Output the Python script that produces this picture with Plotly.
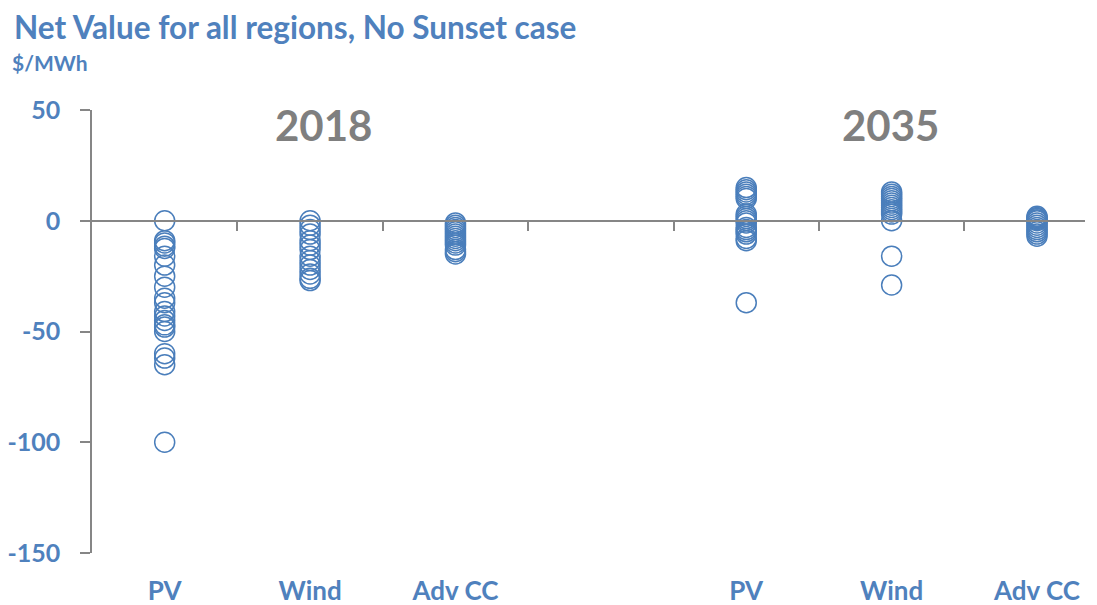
import plotly.graph_objects as go

# ---- data ----
categories = ["PV", "Wind", "Adv CC", "", "PV", "Wind", "Adv CC"]
year_labels = ["2018", "2035"]
year_positions = [1.09, 4.99]

pv_2018 = [0, -9, -10, -11.5, -12.5, -16, -20, -25, -30, -35, -37, -41, -43, -45, -47, -48, -50, -60, -62, -65, -100]
wind_2018 = [0, -2, -4, -6, -9, -11, -13, -16, -18, -20, -22, -24, -26, -27]
advcc_2018 = [-1, -2, -3, -4, -5, -6, -7, -8, -9, -10, -11, -13, -14, -15]
pv_2035 = [15, 14, 13, 12, 11, 10, 3, 2, 1, 0, -1, -3, -4, -5, -6, -8, -9, -37]
wind_2035 = [13, 12, 11, 10, 9, 8, 7, 6, 5, 4, 3, 0, -16, -29]
advcc_2035 = [2, 1.5, 1, 0.5, 0, -1, -2, -3, -4, -5, -6, -7]

series = [(0, pv_2018), (1, wind_2018), (2, advcc_2018),
          (4, pv_2035), (5, wind_2035), (6, advcc_2035)]

y_ticks = [-150, -100, -50, 0, 50]
y_tick_text = ["-150", "-100", "-50", "0", "50"]

BLUE = "#4a7ebb"
TEXT_BLUE = "#4f81bd"
GRAY = "#868686"
FONT = "Lato"

# plot area in figure pixels (page body adds an 8px offset)
L, T, B, R = 84, 102, 60, 20
H = 605 - T - B
W = 1097 - L - R


def py(fig_y):
    return (T + H - fig_y) / H


fig = go.Figure()
for idx, vals in series:
    fig.add_trace(go.Scatter(
        x=[idx] * len(vals), y=vals, mode="markers",
        marker=dict(symbol="circle-open", size=20, color=BLUE,
                    line=dict(color=BLUE, width=1.5)),
        showlegend=False, hoverinfo="y"))

# empty trace to carry the zero-line axis
fig.add_trace(go.Scatter(x=[], y=[], xaxis="x2", showlegend=False, hoverinfo="skip"))

xr = [-0.5, 6.33]
boundaries = [i + 0.5 for i in range(len(categories) - 1)]

fig.update_layout(
    width=1097, height=605,
    margin=dict(l=L, r=R, t=T, b=B),
    paper_bgcolor="white", plot_bgcolor="white",
    font=dict(family=FONT),
    xaxis=dict(range=xr, tickmode="array", automargin=False,
               tickvals=list(range(len(categories))), ticktext=categories,
               showgrid=False, zeroline=False, showline=False, ticks="",
               tickfont=dict(family=FONT, size=26, color=TEXT_BLUE, weight="bold"),
               ticklabelstandoff=20),
    xaxis2=dict(range=xr, overlaying="x", matches="x", anchor="free", position=0.75,
                automargin=False,
                showline=True, linecolor=GRAY, linewidth=1.5,
                tickmode="array", tickvals=boundaries, ticks="outside",
                ticklen=9, tickcolor=GRAY, tickwidth=1.5,
                showticklabels=False, showgrid=False, zeroline=False),
    yaxis=dict(range=[-150, 50], tickmode="array", tickvals=y_ticks, ticktext=y_tick_text,
               automargin=False,
               showgrid=False, zeroline=False, showline=True, linecolor=GRAY,
               linewidth=1.5, ticks="outside", ticklen=10, tickcolor=GRAY, tickwidth=1.5,
               tickfont=dict(family=FONT, size=25, color=TEXT_BLUE, weight="bold"),
               ticklabelstandoff=15),
)

fig.add_annotation(text="Net Value for all regions, No Sunset case",
                   xref="paper", yref="paper", x=-80/W, y=py(19),
                   xanchor="left", yanchor="middle", showarrow=False,
                   font=dict(family=FONT, size=31.5, color=TEXT_BLUE, weight="bold"))
fig.add_annotation(text="$/MWh", xref="paper", yref="paper",
                   x=-82/W, y=py(54), xanchor="left", yanchor="middle",
                   showarrow=False,
                   font=dict(family=FONT, size=21, color=TEXT_BLUE, weight="bold"))
for lab, pos in zip(year_labels, year_positions):
    fig.add_annotation(text=lab, x=pos, y=py(117), xref="x", yref="paper",
                       xanchor="center", yanchor="middle", showarrow=False,
                       font=dict(family=FONT, size=42, color="#7f7f7f", weight="bold"))

fig.write_html("out.html")
